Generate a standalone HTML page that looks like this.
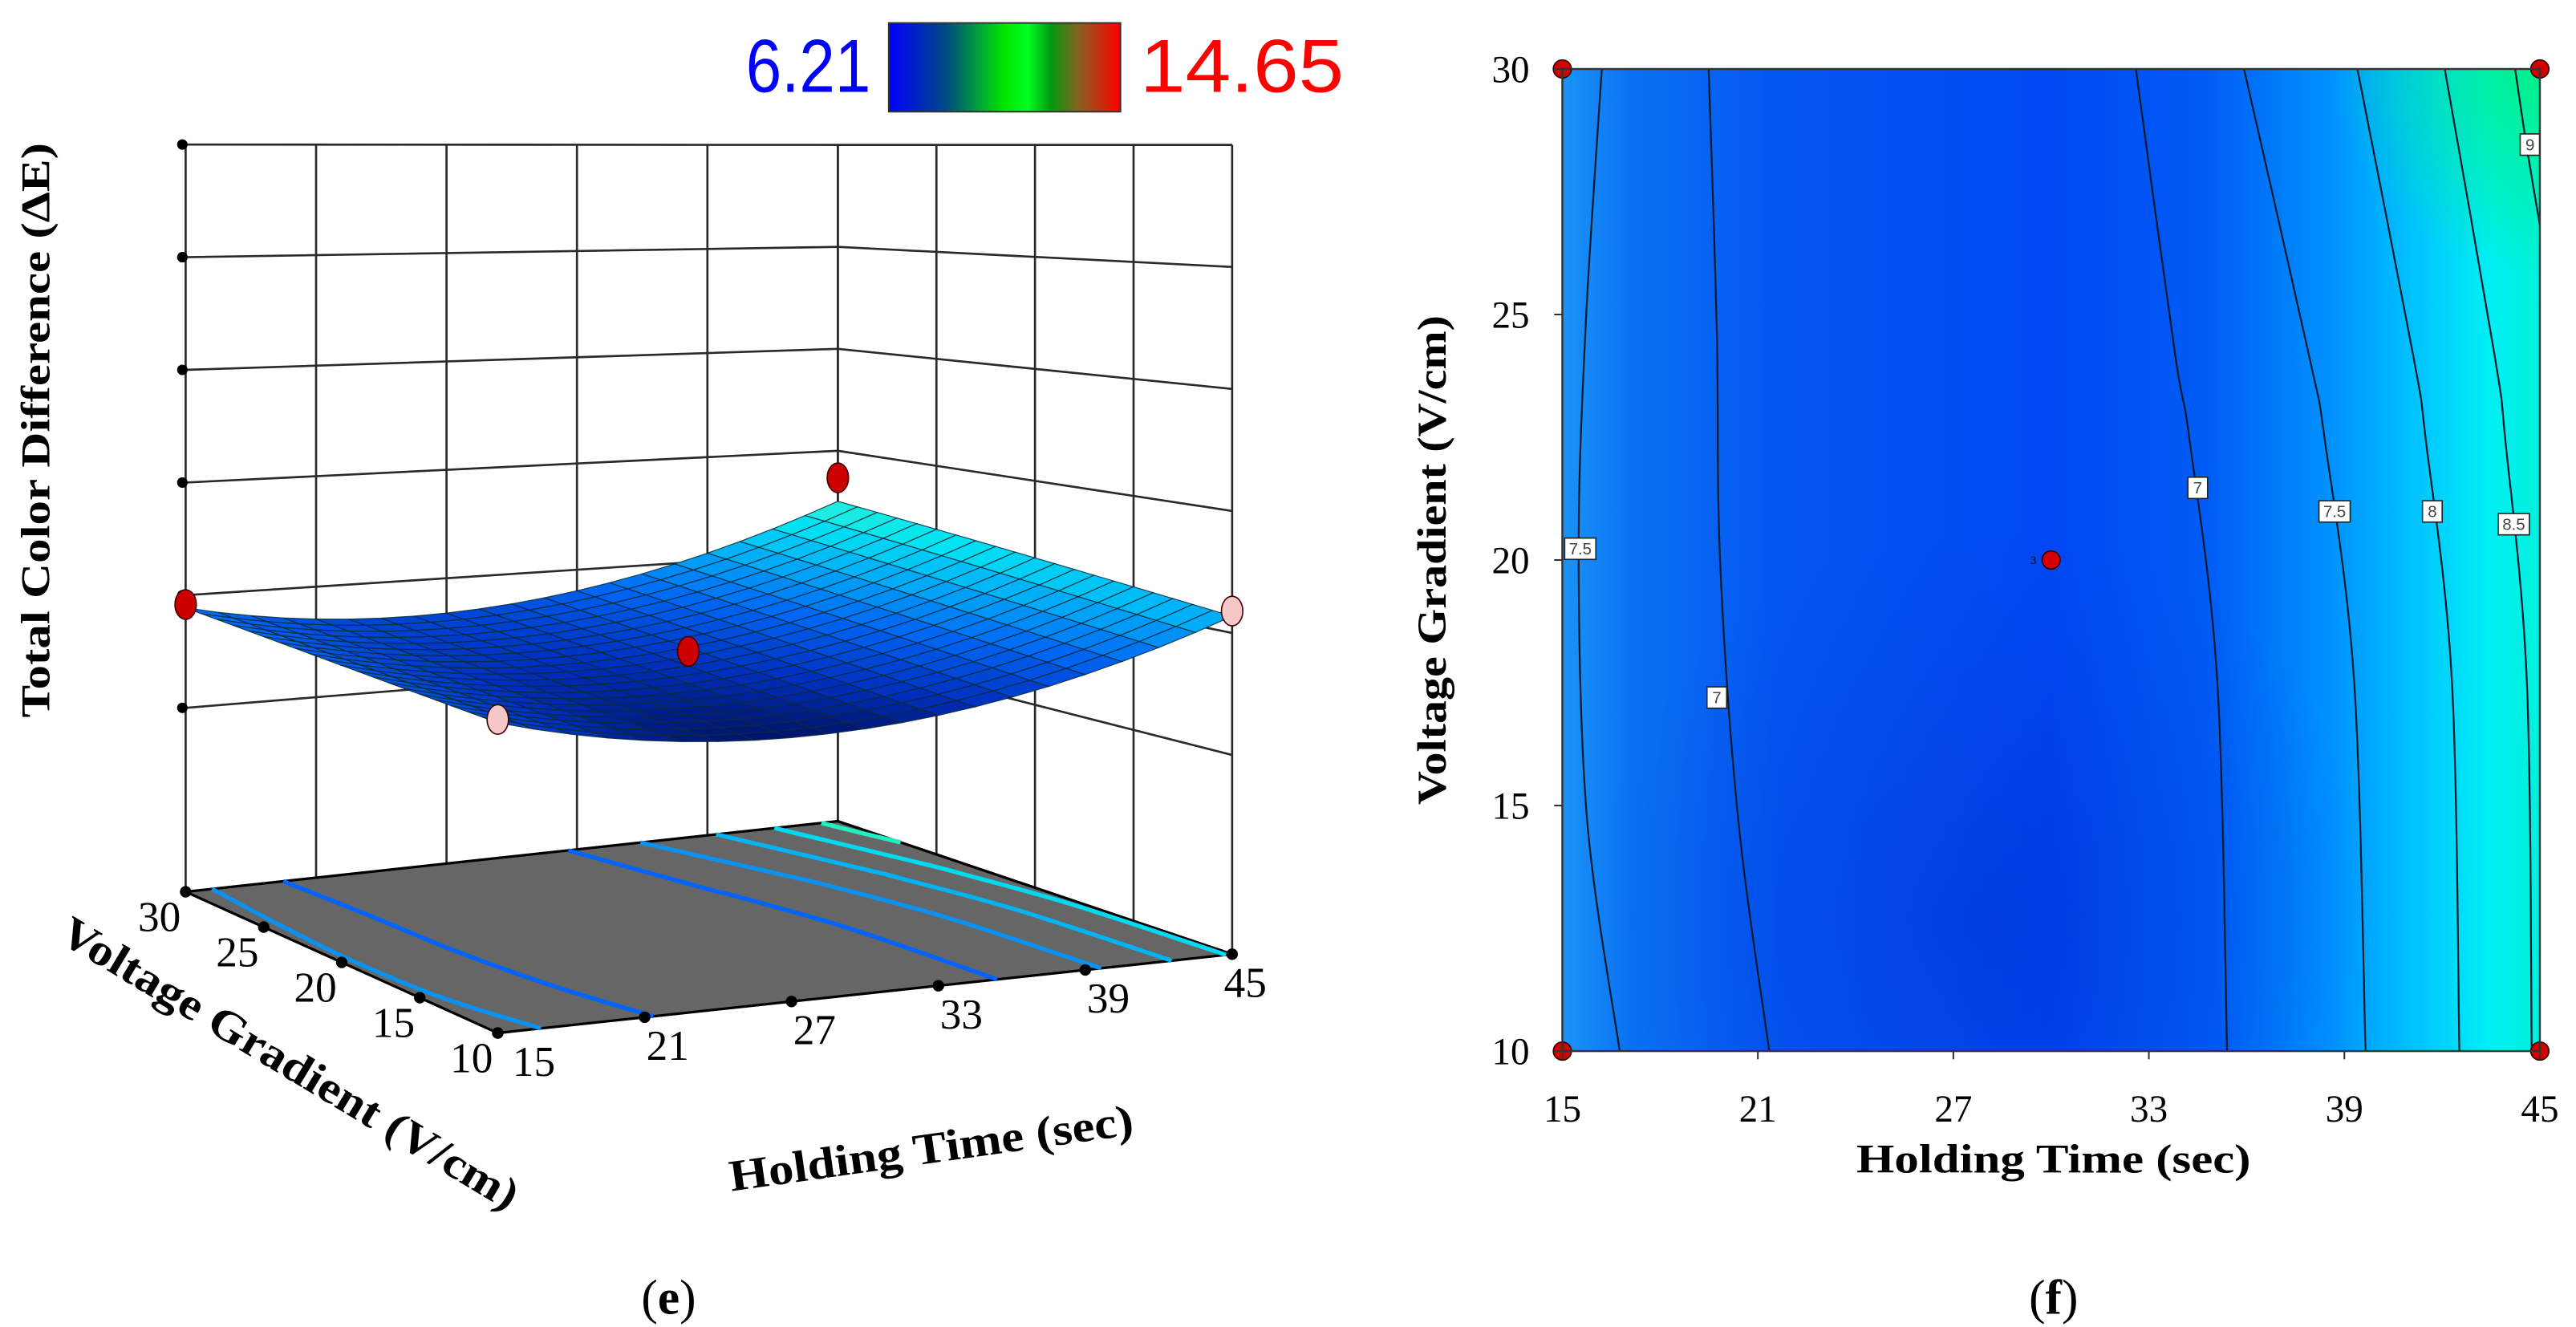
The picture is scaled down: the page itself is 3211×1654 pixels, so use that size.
<!DOCTYPE html>
<html><head><meta charset="utf-8"><title>Response surface (e) and contour plot (f)</title>
<style>
html,body{margin:0;padding:0;background:#fff;}
svg{display:block;}
text{font-family:"Liberation Serif",serif;}
</style></head>
<body>
<svg id="fig" xmlns="http://www.w3.org/2000/svg" width="3211" height="1654" viewBox="0 0 1568 808" preserveAspectRatio="none">
<defs>
<linearGradient id="cbar" x1="0" y1="0" x2="1" y2="0">
<stop offset="0" stop-color="#0000ff"/><stop offset="0.25" stop-color="#004a80"/><stop offset="0.5" stop-color="#00e800"/><stop offset="0.6" stop-color="#00ff20"/><stop offset="0.7" stop-color="#009a10"/><stop offset="0.82" stop-color="#8a6020"/><stop offset="1" stop-color="#ff0000"/>
</linearGradient>
<linearGradient id="cbg" x1="0" y1="0" x2="1" y2="0">
<stop offset="0" stop-color="#1a94f8"/><stop offset="0.07" stop-color="#0a72f2"/><stop offset="0.22" stop-color="#0456f2"/><stop offset="0.5" stop-color="#0048f2"/><stop offset="0.66" stop-color="#005cf6"/><stop offset="0.79" stop-color="#0094ff"/><stop offset="0.88" stop-color="#00c8ff"/><stop offset="0.95" stop-color="#00f0f4"/><stop offset="1" stop-color="#00f0dc"/>
</linearGradient>
<radialGradient id="cgreen" cx="1546" cy="42" r="125" gradientUnits="userSpaceOnUse">
<stop offset="0" stop-color="#00f080" stop-opacity="0.9"/><stop offset="1" stop-color="#00f080" stop-opacity="0"/>
</radialGradient>
<radialGradient id="cdark" cx="1210" cy="560" r="240" gradientUnits="userSpaceOnUse">
<stop offset="0" stop-color="#0028c8" stop-opacity="0.35"/><stop offset="1" stop-color="#0028c8" stop-opacity="0"/>
</radialGradient>
</defs>
<g id="panelE"></g>
<g id="panelF"></g>
</svg>
<script>
const NS = 'http://www.w3.org/2000/svg';
// ---- 3D surface data ----
const surfaceCoef = [6.3, 1.05, 0.55, 0.185, 1.9, 0.035]; // b0, bTime, bVolt, bTV, bTT, bVV (coded)
const zTicks = [4, 8, 12, 16, 20, 24];
const timeTicks = [15, 21, 27, 33, 39, 45];
const voltTicks = [10, 15, 20, 25, 30];
const obsTime = [15, 45, 30, 15, 45];
const obsVolt = [30, 30, 20, 10, 10];
const obsValue = [7.67, 10.94, 6.8, 6.92, 8.72];
const obsAbove = [true, true, true, false, false];
const colorMin = 6.21;
const colorMax = 14.65;
// ---- contour data (traced lines) ----
const contourLevels = [7.5, 7, 7, 7.5, 8, 8.5, 9];
const contourTime = [
  [16.21, 15.71, 15.50, 15.76, 16.76],
  [19.49, 19.74, 19.84, 20.40, 21.35],
  [32.60, 33.80, 34.25, 35.10, 35.40],
  [35.92, 37.90, 38.40, 39.30, 39.65],
  [39.40, 41.10, 41.50, 42.30, 42.53],
  [42.08, 43.60, 43.94, 44.60, 44.75],
  [44.24, 44.60, 45.00]
];
const contourVolt = [
  [30, 24.7, 20, 14.7, 10],
  [30, 24.7, 20, 14.7, 10],
  [30, 24.21, 22.44, 17.53, 10],
  [30, 24.21, 22.44, 17.53, 10],
  [30, 24.21, 22.44, 17.53, 10],
  [30, 24.21, 22.44, 17.53, 10],
  [30, 28.4, 26.82]
];
const labelText = ['7.5', '7', '7', '7.5', '8', '8.5', '9'];
const labelTime = [15.55, 19.74, 34.5, 38.7, 41.7, 44.2, 44.7];
const labelVolt = [20.23, 17.2, 21.47, 20.99, 20.99, 20.73, 28.46];
const designTime = [15, 45, 15, 45, 30];
const designVolt = [30, 30, 10, 10, 20];

function mk(tag, attrs, parent) {
  const el = document.createElementNS(NS, tag);
  for (const k in attrs) el.setAttribute(k, attrs[k]);
  parent.appendChild(el);
  return el;
}
function smooth(pts) {
  let d = 'M' + pts[0][0].toFixed(2) + ',' + pts[0][1].toFixed(2);
  const n = pts.length;
  for (let i = 0; i < n - 1; i++) {
    const p0 = pts[Math.max(i - 1, 0)], p1 = pts[i], p2 = pts[i + 1], p3 = pts[Math.min(i + 2, n - 1)];
    const c1 = [p1[0] + (p2[0] - p0[0]) / 6, p1[1] + (p2[1] - p0[1]) / 6];
    const c2 = [p2[0] - (p3[0] - p1[0]) / 6, p2[1] - (p3[1] - p1[1]) / 6];
    d += ' C' + c1[0].toFixed(2) + ',' + c1[1].toFixed(2) + ' ' + c2[0].toFixed(2) + ',' + c2[1].toFixed(2) + ' ' + p2[0].toFixed(2) + ',' + p2[1].toFixed(2);
  }
  return d;
}
function lerpColor(stops, v) {
  if (v <= stops[0][0]) return '#' + stops[0][1];
  for (let i = 1; i < stops.length; i++) {
    if (v <= stops[i][0]) {
      const a = stops[i - 1], b = stops[i], f = (v - a[0]) / (b[0] - a[0]);
      const ca = a[1].match(/\w\w/g).map(h => parseInt(h, 16)), cb = b[1].match(/\w\w/g).map(h => parseInt(h, 16));
      return 'rgb(' + ca.map((c, j) => Math.round(c + (cb[j] - c) * f)).join(',') + ')';
    }
  }
  return '#' + stops[stops.length - 1][1];
}

// ================= PANEL E (3D) =================
const gE = document.getElementById('panelE');
const corners = { bl: [113, 543], br: [510, 500], fl: [303, 629], fr: [750, 581] };
const persp = [1.0, 0.905, 1.178, 1.083];
const zFloor = -2.53, kz = 17.15;
function floorPt(t, v) {
  const a = (t - 15) / 30, b = (30 - v) / 20;
  const w = [(1 - a) * (1 - b), a * (1 - b), (1 - a) * b, a * b];
  const x = w[0] * corners.bl[0] + w[1] * corners.br[0] + w[2] * corners.fl[0] + w[3] * corners.fr[0];
  const y = w[0] * corners.bl[1] + w[1] * corners.br[1] + w[2] * corners.fl[1] + w[3] * corners.fr[1];
  const f = w[0] * persp[0] + w[1] * persp[1] + w[2] * persp[2] + w[3] * persp[3];
  return [x, y, f];
}
function proj(t, v, z) {
  const p = floorPt(t, v);
  return [p[0], p[1] - (z - zFloor) * kz * p[2]];
}
function surf(t, v) {
  const u = (t - 30) / 15, w = (v - 20) / 10, c = surfaceCoef;
  return c[0] + c[1] * u + c[2] * w + c[3] * u * w + c[4] * u * u + c[5] * w * w;
}

const cbG = mk('g', {}, gE);


const cbMinT = mk('text', { x: 530, y: 56, 'text-anchor': 'end', 'font-size': 46, fill: '#0000ff', textLength: 76, lengthAdjust: 'spacingAndGlyphs', style: 'font-family:"Liberation Sans",sans-serif' }, cbG);
cbMinT.textContent = colorMin.toFixed(2);


const cbRect = mk('rect', { x: 541, y: 14, width: 141, height: 54, fill: 'url(#cbar)', stroke: '#333', 'stroke-width': 1 }, cbG);


const cbMaxT = mk('text', { x: 694, y: 56, 'font-size': 46, fill: '#ff0000', textLength: 124, lengthAdjust: 'spacingAndGlyphs', style: 'font-family:"Liberation Sans",sans-serif' }, cbG);
cbMaxT.textContent = colorMax.toFixed(2);



const wallG = mk('g', { stroke: '#2a2a2a', 'stroke-width': 1.3, fill: 'none' }, gE);


const zTop = zTicks[zTicks.length - 1];
timeTicks.forEach(t => {
  const a = proj(t, 30, zFloor), b = proj(t, 30, zTop);
  const l = mk('line', { x1: a[0], y1: a[1], x2: b[0], y2: b[1] }, wallG);
  
  
});
voltTicks.forEach(v => {
  const a = proj(45, v, zFloor), b = proj(45, v, zTop);
  const l = mk('line', { x1: a[0], y1: a[1], x2: b[0], y2: b[1] }, wallG);
  
  
});
zTicks.forEach(z => {
  const a = proj(15, 30, z), b = proj(45, 30, z), c = proj(45, 10, z);
  const pl = mk('polyline', { points: a.join(',') + ' ' + b.join(',') + ' ' + c.join(',') }, wallG);
  
  
});
const zAxisG = mk('g', { fill: '#000' }, gE);


zTicks.forEach(z => {
  const p = proj(15, 30, z);
  const c = mk('circle', { cx: p[0] - 2, cy: p[1], r: 3.2 }, zAxisG);
  
  
});
const zTitle = mk('text', { x: 0, y: 0, transform: 'translate(30,262) rotate(-90)', 'text-anchor': 'middle', 'font-size': 25, 'font-weight': 'bold', textLength: 350, lengthAdjust: 'spacingAndGlyphs' }, gE);
zTitle.textContent = 'Total Color Difference (ΔE)';



const fp = [proj(15, 30, zFloor), proj(45, 30, zFloor), proj(45, 10, zFloor), proj(15, 10, zFloor)];
const floor = mk('polygon', { points: fp.map(p => p.join(',')).join(' '), fill: '#666666', stroke: '#000', 'stroke-width': 1.6 }, gE);


const levelColor = { '7': '#0064ff', '7.5': '#0a92f2', '8': '#00b4f4', '8.5': '#00daf0', '9': '#20f0c0' };
contourLevels.forEach((lv, i) => {
  const pts = contourTime[i].map((t, j) => { const p = floorPt(t, contourVolt[i][j]); return [p[0], p[1]]; });
  const pa = mk('path', { d: smooth(pts), fill: 'none', stroke: levelColor[String(lv)], 'stroke-width': 2.6 }, gE);
  
  
});
const axG = mk('g', { 'font-size': 26 }, gE);


voltTicks.forEach(v => {
  const p = proj(15, v, zFloor);
  const c = mk('circle', { cx: p[0], cy: p[1], r: 3.5, fill: '#000' }, axG);
  
  
  const tx = mk('text', { x: p[0] - 16, y: p[1] + 24, 'text-anchor': 'middle' }, axG);
  tx.textContent = v;
  
  
});
timeTicks.forEach((t, i) => {
  const p = proj(t, 10, zFloor);
  const c = mk('circle', { cx: p[0], cy: p[1], r: 3.5, fill: '#000' }, axG);
  
  
  const dx = i === 0 ? 22 : (i === timeTicks.length - 1 ? 8 : 14);
  const tx = mk('text', { x: p[0] + dx, y: p[1] + 26, 'text-anchor': 'middle' }, axG);
  tx.textContent = t;
  
  
});
const vTitle = mk('text', { x: 0, y: 0, transform: 'translate(172,655) rotate(31)', 'text-anchor': 'middle', 'font-size': 27, 'font-weight': 'bold', textLength: 320, lengthAdjust: 'spacingAndGlyphs' }, gE);
vTitle.textContent = 'Voltage Gradient (V/cm)';


const hTitle = mk('text', { x: 0, y: 0, transform: 'translate(568,708) rotate(-8)', 'text-anchor': 'middle', 'font-size': 27, 'font-weight': 'bold', textLength: 248, lengthAdjust: 'spacingAndGlyphs' }, gE);
hTitle.textContent = 'Holding Time (sec)';



const surfStops = [[5.6, '001060'], [6.3, '0030c0'], [7.3, '0066f4'], [8.3, '00aaf8'], [9.3, '00e4f2'], [10.3, '40f8c8']];
const sG = mk('g', { stroke: '#0c2a3a', 'stroke-width': 0.6, 'stroke-opacity': 0.85 }, gE);


const N = 20;
for (let i = 0; i < N; i++) {
  const v0 = 30 - 20 * i / N, v1 = 30 - 20 * (i + 1) / N;
  for (let j = 0; j < N; j++) {
    const t0 = 15 + 30 * j / N, t1 = 15 + 30 * (j + 1) / N;
    const q = [[t0, v0], [t1, v0], [t1, v1], [t0, v1]];
    const pts = q.map(p => proj(p[0], p[1], surf(p[0], p[1])));
    const e = q.reduce((s, p) => s + surf(p[0], p[1]), 0) / 4;
    const poly = mk('polygon', { points: pts.map(p => p[0].toFixed(2) + ',' + p[1].toFixed(2)).join(' '), fill: lerpColor(surfStops, e) }, sG);
    
    
  }
}
obsTime.forEach((t, i) => {
  const p = proj(t, obsVolt[i], obsValue[i]);
  const el = mk('ellipse', { cx: p[0], cy: p[1], rx: 6.5, ry: 9, fill: obsAbove[i] ? '#cc0000' : '#f8c8c8', stroke: '#400', 'stroke-width': 0.8 }, gE);
  
  
});
const capE = mk('text', { x: 407, y: 800, 'text-anchor': 'middle', 'font-size': 30 }, gE);
capE.innerHTML = '(<tspan font-weight="bold">e</tspan>)';



// ================= PANEL F (contour) =================
const gF = document.getElementById('panelF');
const X0 = 951, X1 = 1546, Y0 = 640, Y1 = 42;
function cx(t) { return X0 + (t - 15) / 30 * (X1 - X0); }
function cy(v) { return Y0 - (v - 10) / 20 * (Y0 - Y1); }
const bg = mk('rect', { x: X0, y: Y1, width: X1 - X0, height: Y0 - Y1, fill: 'url(#cbg)' }, gF);


const bgD = mk('rect', { x: X0, y: Y1, width: X1 - X0, height: Y0 - Y1, fill: 'url(#cdark)' }, gF);


const bgG = mk('rect', { x: X0, y: Y1, width: X1 - X0, height: Y0 - Y1, fill: 'url(#cgreen)' }, gF);


contourLevels.forEach((lv, i) => {
  const pts = contourTime[i].map((t, j) => [cx(t), cy(contourVolt[i][j])]);
  const pa = mk('path', { d: smooth(pts), fill: 'none', stroke: '#0a1a2a', 'stroke-width': 1.1 }, gF);
  
  
});
labelText.forEach((s, i) => {
  const x = cx(labelTime[i]), y = cy(labelVolt[i]);
  const w = s.length > 1 ? 19 : 12;
  const g = mk('g', {}, gF);
  
  
  mk('rect', { x: x - w / 2, y: y - 6.5, width: w, height: 13, fill: '#fff', stroke: '#222', 'stroke-width': 0.8 }, g);
  const tx = mk('text', { x: x, y: y + 3.5, 'text-anchor': 'middle', 'font-size': 10, fill: '#444', style: 'font-family:"Liberation Sans",sans-serif' }, g);
  tx.textContent = s;
});
designTime.forEach((t, i) => {
  const c = mk('circle', { cx: cx(t), cy: cy(designVolt[i]), r: 5.5, fill: '#d40000', stroke: '#300', 'stroke-width': 0.8 }, gF);
  
  
});
const cnt = mk('text', { x: cx(30) - 9, y: cy(20) + 2.5, 'font-size': 7, 'text-anchor': 'end' }, gF);
cnt.textContent = '3';


const frame = mk('rect', { x: X0, y: Y1, width: X1 - X0, height: Y0 - Y1, fill: 'none', stroke: '#333', 'stroke-width': 1.2 }, gF);


const fAx = mk('g', { 'font-size': 23 }, gF);


timeTicks.forEach(t => {
  const tk = mk('line', { x1: cx(t), y1: Y0, x2: cx(t), y2: Y0 + 5, stroke: '#333', 'stroke-width': 1 }, fAx);
  
  
  const tx = mk('text', { x: cx(t), y: Y0 + 43, 'text-anchor': 'middle' }, fAx);
  tx.textContent = t;
  
  
});
voltTicks.forEach(v => {
  const tk = mk('line', { x1: X0 - 5, y1: cy(v), x2: X0, y2: cy(v), stroke: '#333', 'stroke-width': 1 }, fAx);
  
  
  const tx = mk('text', { x: X0 - 20, y: cy(v) + 8, 'text-anchor': 'end' }, fAx);
  tx.textContent = v;
  
  
});
const fx = mk('text', { x: 1250, y: 714, 'text-anchor': 'middle', 'font-size': 25, 'font-weight': 'bold', textLength: 240, lengthAdjust: 'spacingAndGlyphs' }, gF);
fx.textContent = 'Holding Time (sec)';


const fy = mk('text', { x: 0, y: 0, transform: 'translate(880,341) rotate(-90)', 'text-anchor': 'middle', 'font-size': 25, 'font-weight': 'bold', textLength: 298, lengthAdjust: 'spacingAndGlyphs' }, gF);
fy.textContent = 'Voltage Gradient (V/cm)';


const capF = mk('text', { x: 1250, y: 800, 'text-anchor': 'middle', 'font-size': 30 }, gF);
capF.innerHTML = '(<tspan font-weight="bold">f</tspan>)';


</script>
</body></html>
